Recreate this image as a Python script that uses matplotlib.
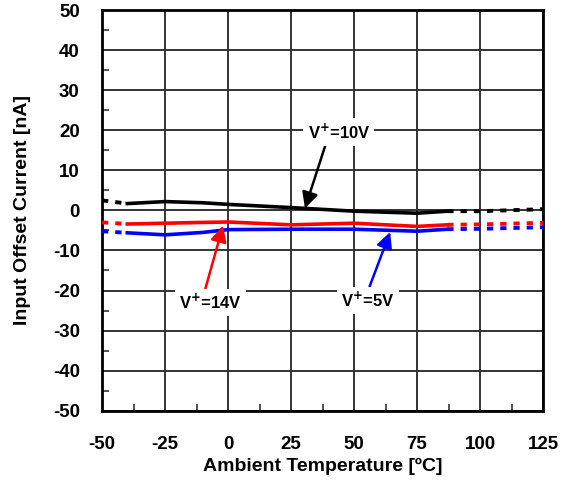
import matplotlib
matplotlib.use("Agg")
import matplotlib.pyplot as plt
from matplotlib.ticker import MultipleLocator

plt.rcParams['font.family'] = ['Liberation Sans', 'DejaVu Sans']
plt.rcParams['font.weight'] = 'bold'
plt.rcParams['axes.unicode_minus'] = False
plt.rcParams['mathtext.default'] = 'bf'

# 实测区间 (-40 ~ 87) 和外推区间
temp_solid = [-40, -25, -10, 0, 25, 50, 75, 87]
v10_solid = [1.7, 2.2, 1.9, 1.5, 0.7, -0.2, -0.7, -0.2]
v14_solid = [-3.4, -3.2, -3.0, -2.9, -3.6, -3.2, -4.0, -3.6]
v5_solid = [-5.6, -6.1, -5.5, -4.8, -4.7, -4.7, -5.2, -4.7]

temp_left = [-50, -40]
v10_left = [2.5, 1.7]
v14_left = [-3.0, -3.4]
v5_left = [-5.2, -5.6]

temp_right = [87, 100, 125]
v10_right = [-0.2, -0.2, 0.3]
v14_right = [-3.6, -3.5, -3.1]
v5_right = [-4.7, -4.6, -4.2]

fig = plt.figure(figsize=(5.64, 4.82), dpi=100)
ax = fig.add_axes([0.181, 0.148, 0.782, 0.831])

series = [
    (v10_left, v10_solid, v10_right, 'black'),
    (v14_left, v14_solid, v14_right, '#ff0000'),
    (v5_left, v5_solid, v5_right, '#0000ff'),
]
for left, solid, right, c in series:
    ax.plot(temp_solid, solid, color=c, lw=2.6, zorder=4, solid_joinstyle='round')
    ax.plot(temp_left, left, color=c, lw=2.8, dashes=(1.6, 1.8), zorder=4)
    ax.plot(temp_right, right, color=c, lw=2.8, dashes=(1.6, 1.8), zorder=4)

ax.set_xlim(-50, 125)
ax.set_ylim(-50, 50)
ax.xaxis.set_major_locator(MultipleLocator(25))
ax.xaxis.set_minor_locator(MultipleLocator(12.5))
ax.yaxis.set_major_locator(MultipleLocator(10))
ax.yaxis.set_minor_locator(MultipleLocator(5))
ax.tick_params(which='major', length=0, labelsize=13.5)
ax.tick_params(axis='x', which='major', pad=18)
ax.tick_params(axis='y', which='major', pad=16)
ax.tick_params(which='minor', direction='in', length=5, width=1.2, color='#333333')
for lab in ax.get_xticklabels() + ax.get_yticklabels():
    lab.set_fontweight('bold')
ax.grid(True, which='major', color='#333333', lw=1.4)
for s in ax.spines.values():
    s.set_linewidth(2)
    s.set_color('black')

ax.set_xlabel('Ambient Temperature [ºC]', fontsize=14, fontweight='bold', labelpad=4)
ax.set_ylabel('Input Offset Current [nA]', fontsize=14, fontweight='bold', labelpad=16)

box = dict(facecolor='white', edgecolor='none', pad=3)
arrow = dict(arrowstyle='-|>', lw=1.8, mutation_scale=24, shrinkA=0, shrinkB=0)
ax.annotate('V$^{+}$=10V', xy=(30.5, 0.5), xytext=(44, 19.5),
            ha='center', va='center', fontsize=12, fontweight='bold', bbox=box,
            arrowprops=dict(arrow, color='black', relpos=(0.3, 0.0)), zorder=5)
ax.annotate('V$^{+}$=14V', xy=(-2, -3.8), xytext=(-7, -23),
            ha='center', va='center', fontsize=12, fontweight='bold', bbox=box,
            arrowprops=dict(arrow, color='#ff0000', relpos=(0.4, 1.0)), zorder=5)
ax.annotate('V$^{+}$=5V', xy=(64.3, -5.4), xytext=(55.5, -22.5),
            ha='center', va='center', fontsize=12, fontweight='bold', bbox=box,
            arrowprops=dict(arrow, color='#0000ff', relpos=(0.5, 1.0)), zorder=5)

fig.savefig('out.png', dpi=100)
